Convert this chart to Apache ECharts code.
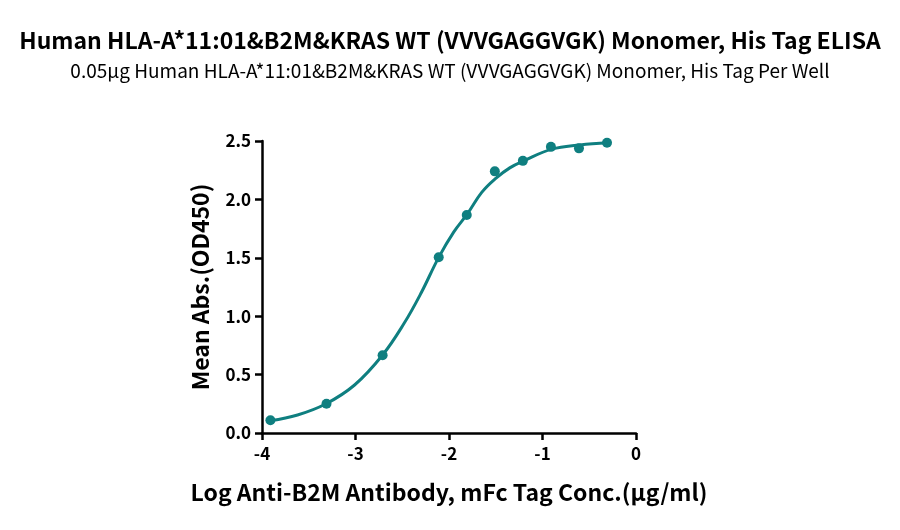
<!DOCTYPE html>
<html>
<head>
<meta charset="utf-8">
<script src="https://cdn.jsdelivr.net/npm/echarts@6/dist/echarts.min.js"></script>
<style>
html,body{margin:0;padding:0;background:#fff;}
#c{width:900px;height:530px;}
</style>
</head>
<body>
<div id="c"></div>
<script>
const titleText = "Human HLA-A*11:01&B2M&KRAS WT (VVVGAGGVGK) Monomer, His Tag ELISA";
const subtitleText = "0.05μg Human HLA-A*11:01&B2M&KRAS WT (VVVGAGGVGK) Monomer, His Tag Per Well";
const xAxisName = "Log Anti-B2M Antibody, mFc Tag Conc.(μg/ml)";
const yAxisName = "Mean Abs.(OD450)";

// measured points
const pointX = [-3.91, -3.31, -2.71, -2.11, -1.81, -1.51, -1.21, -0.91, -0.61, -0.31];
const pointY = [0.109, 0.251, 0.665, 1.504, 1.866, 2.24, 2.33, 2.45, 2.437, 2.485];

// fitted curve
const curveX = [-3.91, -3.62, -3.32, -3.01, -2.71, -2.48, -2.30, -2.11, -1.95, -1.80, -1.65, -1.50, -1.35, -1.20, -0.90, -0.60, -0.30];
const curveY = [0.105, 0.154, 0.248, 0.411, 0.668, 0.939, 1.196, 1.504, 1.72, 1.88, 2.06, 2.18, 2.27, 2.33, 2.43, 2.466, 2.485];

const color = "#0f7f80";
const font = "'Noto Sans CJK SC', 'Noto Sans', sans-serif";

const chart = echarts.init(document.getElementById('c'));
chart.setOption({
  animation: false,
  title: [
    {text: titleText, left: 'center', top: 24,
     textStyle: {fontFamily: font, fontWeight: 'bold', fontSize: 23, color: '#000'}},
    {text: subtitleText, left: 'center', top: 56,
     textStyle: {fontFamily: font, fontWeight: 'normal', fontSize: 19, color: '#000'}}
  ],
  grid: {left: 262, right: 264, top: 141, bottom: 97},
  xAxis: {
    type: 'value', min: -4, max: 0, interval: 1,
    name: xAxisName, nameLocation: 'middle', nameGap: 48,
    nameTextStyle: {fontFamily: font, fontWeight: 'bold', fontSize: 23, color: '#000'},
    axisLine: {show: true, onZero: false, lineStyle: {color: '#000', width: 2.5}},
    axisTick: {show: true, length: 7, lineStyle: {color: '#000', width: 2.5}},
    axisLabel: {fontFamily: font, fontWeight: 'bold', fontSize: 17, color: '#000', margin: 12},
    splitLine: {show: false}
  },
  yAxis: {
    type: 'value', min: 0, max: 2.5, interval: 0.5,
    name: yAxisName, nameLocation: 'middle', nameGap: 50, nameRotate: 90,
    nameTextStyle: {fontFamily: font, fontWeight: 'bold', fontSize: 23, color: '#000'},
    axisLine: {show: true, onZero: false, lineStyle: {color: '#000', width: 2.5}},
    axisTick: {show: true, length: 7, lineStyle: {color: '#000', width: 2.5}},
    axisLabel: {fontFamily: font, fontWeight: 'bold', fontSize: 17, color: '#000', margin: 11,
      formatter: v => v.toFixed(1)},
    splitLine: {show: false}
  },
  series: [
    {type: 'line', data: curveX.map((x, i) => [x, curveY[i]]), smooth: 0.4,
     showSymbol: false, lineStyle: {color: color, width: 3}, z: 2},
    {type: 'scatter', data: pointX.map((x, i) => [x, pointY[i]]), symbolSize: 10,
     itemStyle: {color: color, opacity: 1}, z: 3}
  ]
});
</script>
</body>
</html>
